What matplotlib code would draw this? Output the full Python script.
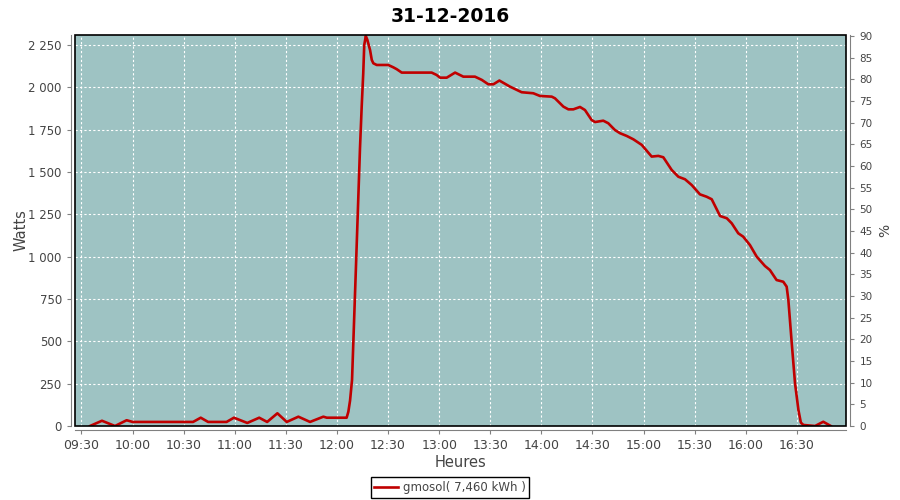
import pandas as pd
import matplotlib
matplotlib.use('Agg')
import matplotlib.pyplot as plt
import matplotlib.dates as mdates
from matplotlib.ticker import FuncFormatter, MultipleLocator
from matplotlib.patches import Rectangle

# donnees
heures = ['09:35:00', '09:42:00', '09:49:40', '09:56:30', '10:00:00', '10:35:30', '10:40:00',
          '10:44:20', '10:55:10', '10:59:30', '11:07:20', '11:14:20', '11:19:00', '11:25:00',
          '11:30:30', '11:37:20', '11:44:10', '11:52:00', '11:54:00', '12:05:40', '12:06:40',
          '12:07:40', '12:08:50', '12:11:10', '12:13:30', '12:14:30', '12:15:25', '12:16:00',
          '12:16:55', '12:17:50', '12:19:25', '12:20:25', '12:21:20', '12:23:20', '12:30:05',
          '12:33:05', '12:35:05', '12:38:00', '12:55:35', '12:58:30', '13:00:30', '13:04:25',
          '13:09:20', '13:14:10', '13:21:00', '13:25:00', '13:28:50', '13:31:50', '13:35:20',
          '13:41:35', '13:48:25', '13:55:15', '13:59:10', '14:06:05', '14:08:00', '14:12:55',
          '14:15:50', '14:18:45', '14:22:40', '14:25:35', '14:29:30', '14:31:30', '14:36:20',
          '14:39:15', '14:43:10', '14:46:10', '14:50:05', '14:54:00', '14:58:55', '15:04:45',
          '15:08:40', '15:11:35', '15:16:30', '15:20:25', '15:24:20', '15:28:15', '15:33:05',
          '15:37:00', '15:40:00', '15:44:55', '15:48:50', '15:51:45', '15:55:35', '15:58:30',
          '16:02:25', '16:06:25', '16:11:15', '16:14:10', '16:18:05', '16:22:00', '16:24:00',
          '16:25:00', '16:27:00', '16:28:55', '16:30:55', '16:32:20', '16:33:50', '16:40:40',
          '16:45:30', '16:49:55']
watts = [0, 31, 0, 34, 24, 24, 49,
         24, 24, 49, 18, 49, 24, 75,
         24, 55, 24, 55, 49, 49, 84,
         150, 272, 950, 1640, 1886, 2083, 2250,
         2303, 2280, 2220, 2162, 2142, 2132, 2132,
         2118, 2107, 2087, 2087, 2073, 2057, 2057,
         2087, 2063, 2063, 2044, 2018, 2018, 2040,
         2004, 1971, 1965, 1949, 1945, 1935, 1886,
         1870, 1870, 1884, 1866, 1807, 1795, 1803,
         1788, 1748, 1729, 1713, 1693, 1660, 1591,
         1595, 1587, 1512, 1472, 1457, 1423, 1368,
         1354, 1339, 1240, 1227, 1197, 1138, 1118,
         1069, 1000, 945, 921, 862, 852, 823,
         744, 488, 252, 94, 20, 6, 0,
         25, 0]
jour = '2016-12-31'
titre = '31-12-2016'
legende = 'gmosol( 7,460 kWh )'

t = pd.to_datetime([jour + ' ' + h for h in heures])

fig = plt.figure(figsize=(9, 5), dpi=100)
ax = fig.add_axes([0.0833, 0.148, 0.857, 0.782])
ax.set_facecolor('#9ec3c3')

ax.plot(t, watts, color='#c00000', lw=1.9, label=legende, zorder=3)

ax.set_xlim(pd.Timestamp(jour + ' 09:26:10'), pd.Timestamp(jour + ' 16:59:00'))
ax.set_ylim(0, 2309)
ax.xaxis.set_major_locator(mdates.MinuteLocator(byminute=[0, 30]))
ax.xaxis.set_major_formatter(mdates.DateFormatter('%H:%M'))
ax.yaxis.set_major_locator(MultipleLocator(250))
ax.yaxis.set_major_formatter(FuncFormatter(lambda v, p: format(int(v), ',').replace(',', ' ')))

ax.grid(True, color='white', linestyle=(0, (2, 2)), lw=0.8)

for s in ['top', 'right']:
    ax.spines[s].set_visible(False)
for s in ['left', 'bottom']:
    ax.spines[s].set_position(('outward', 3))
    ax.spines[s].set_color('#808080')
ax.add_patch(Rectangle((0, 0), 1, 1, transform=ax.transAxes, fill=False,
                       edgecolor='black', lw=1.2, clip_on=False, zorder=4))

ax.tick_params(axis='both', colors='#808080', labelcolor='#444444', length=3)
ax.tick_params(axis='x', labelsize=9)
ax.tick_params(axis='y', labelsize=8.5)
ax.set_xlabel('Heures', fontsize=10.5, color='#444444')
ax.set_ylabel('Watts', fontsize=10.5, color='#444444')
ax.yaxis.set_label_coords(-0.060, 0.5)
ax.xaxis.set_label_coords(0.5, -0.075)

ax2 = ax.twinx()
ax2.set_ylim(0, 90.2)
ax2.yaxis.set_major_locator(MultipleLocator(5))
for s in ['top', 'left', 'bottom']:
    ax2.spines[s].set_visible(False)
ax2.spines['right'].set_position(('outward', 3))
ax2.spines['right'].set_color('#808080')
ax2.tick_params(axis='y', colors='#808080', labelcolor='#444444', length=3, labelsize=7.5)
ax2.set_ylabel('%', fontsize=10, color='#444444', labelpad=4)

fig.suptitle(titre, fontsize=13.5, fontweight='bold', y=0.985, x=0.5)

leg = fig.legend(loc='center', bbox_to_anchor=(0.5, 0.025), fancybox=False,
                 edgecolor='black', framealpha=1, fontsize=8.5, handlelength=2,
                 borderpad=0.3, handletextpad=0.4)
leg.get_frame().set_linewidth(1)
for txt in leg.get_texts():
    txt.set_color('#444444')

fig.savefig('out.png', dpi=100)
